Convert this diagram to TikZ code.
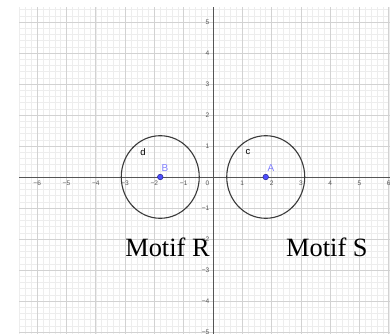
\documentclass[tikz,border=0pt]{standalone}
\usepackage{fontspec}
\setmainfont{Liberation Serif}
\newfontfamily\ggbfont{Liberation Sans}
\usepackage{tikz}
\usetikzlibrary{positioning}
\usepackage{xcolor}
\definecolor{gridmajor}{HTML}{D2D2D2}
\definecolor{gridminor}{HTML}{EDEDED}
\definecolor{axisgray}{HTML}{555555}
\definecolor{ptblue}{HTML}{4D4DFF}
\definecolor{lblblue}{HTML}{8080FF}
\definecolor{circgray}{HTML}{3A3A3A}

\begin{document}
\begin{tikzpicture}[x=29.3bp, y=31bp,
    tick/.style={font=\ggbfont\fontsize{6.6}{7}\selectfont, text=axisgray, inner sep=0.5bp},
    ptlabel/.style={font=\ggbfont\fontsize{10}{11}\selectfont, text=lblblue, inner sep=0},
    circlabel/.style={font=\ggbfont\fontsize{9.5}{11}\selectfont, inner sep=0},
    point/.style={circle, fill=ptblue, draw=ptblue!55!black, line width=0.5bp, inner sep=0, minimum size=5.6bp},
    motif/.style={font=\fontsize{26.5}{30}\selectfont, inner sep=0, anchor=base west}]
    \useasboundingbox (-7.2696,-5.0645) rectangle (6.0410,5.7097);
    \fill[white] (-7.2696,-5.0645) rectangle (6.0410,5.7097);
    % grid
    \draw[gridminor, line width=0.5bp] (-6.621,-5.0645) grid[step=0.2] (6.041,5.484);
    \draw[gridmajor, line width=0.7bp] (-6.621,-5.0645) grid[step=1] (6.041,5.484);
    % axes
    \draw[axisgray, line width=0.8bp] (-6.621,0) -- (6.041,0);
    \draw[axisgray, line width=0.8bp] (0,-5.0645) -- (0,5.484);
    \foreach \i in {1,...,6} {
        \node[tick, below=3bp] (xp\i) at (\i,0) {\i};
        \node[tick, below=3bp] (xm\i) at (-\i,0) {−\i};
    }
    \foreach \j in {1,...,5} {
        \node[tick, left=3bp] (yp\j) at (0,\j) {\j};
        \node[tick, left=3bp] (ym\j) at (0,-\j) {−\j};
    }
    \node[tick, below left=3bp and 3bp] (orig) at (0,0) {0};
    % circles d and c
    \coordinate (B) at (-1.8,0);
    \coordinate (A) at (1.8,0);
    \draw[circgray, line width=1.1bp] (B) ellipse [x radius=39bp, y radius=41.3bp];
    \draw[circgray, line width=1.1bp] (A) ellipse [x radius=39bp, y radius=41.3bp];
    \node[point] (ptB) at (B) {};
    \node[point] (ptA) at (A) {};
    \node[ptlabel] (labB) at (-1.64,0.29) {B};
    \node[ptlabel] (labA) at (1.98,0.29) {A};
    \node[circlabel] (labd) at (-2.39,0.81) {d};
    \node[circlabel] (labc) at (1.19,0.81) {c};
    % texts
    \node[motif] (motifR) at (-3.0,-2.565) {Motif R};
    \node[motif] (motifS) at (2.49,-2.565) {Motif S};
\end{tikzpicture}
\end{document}
